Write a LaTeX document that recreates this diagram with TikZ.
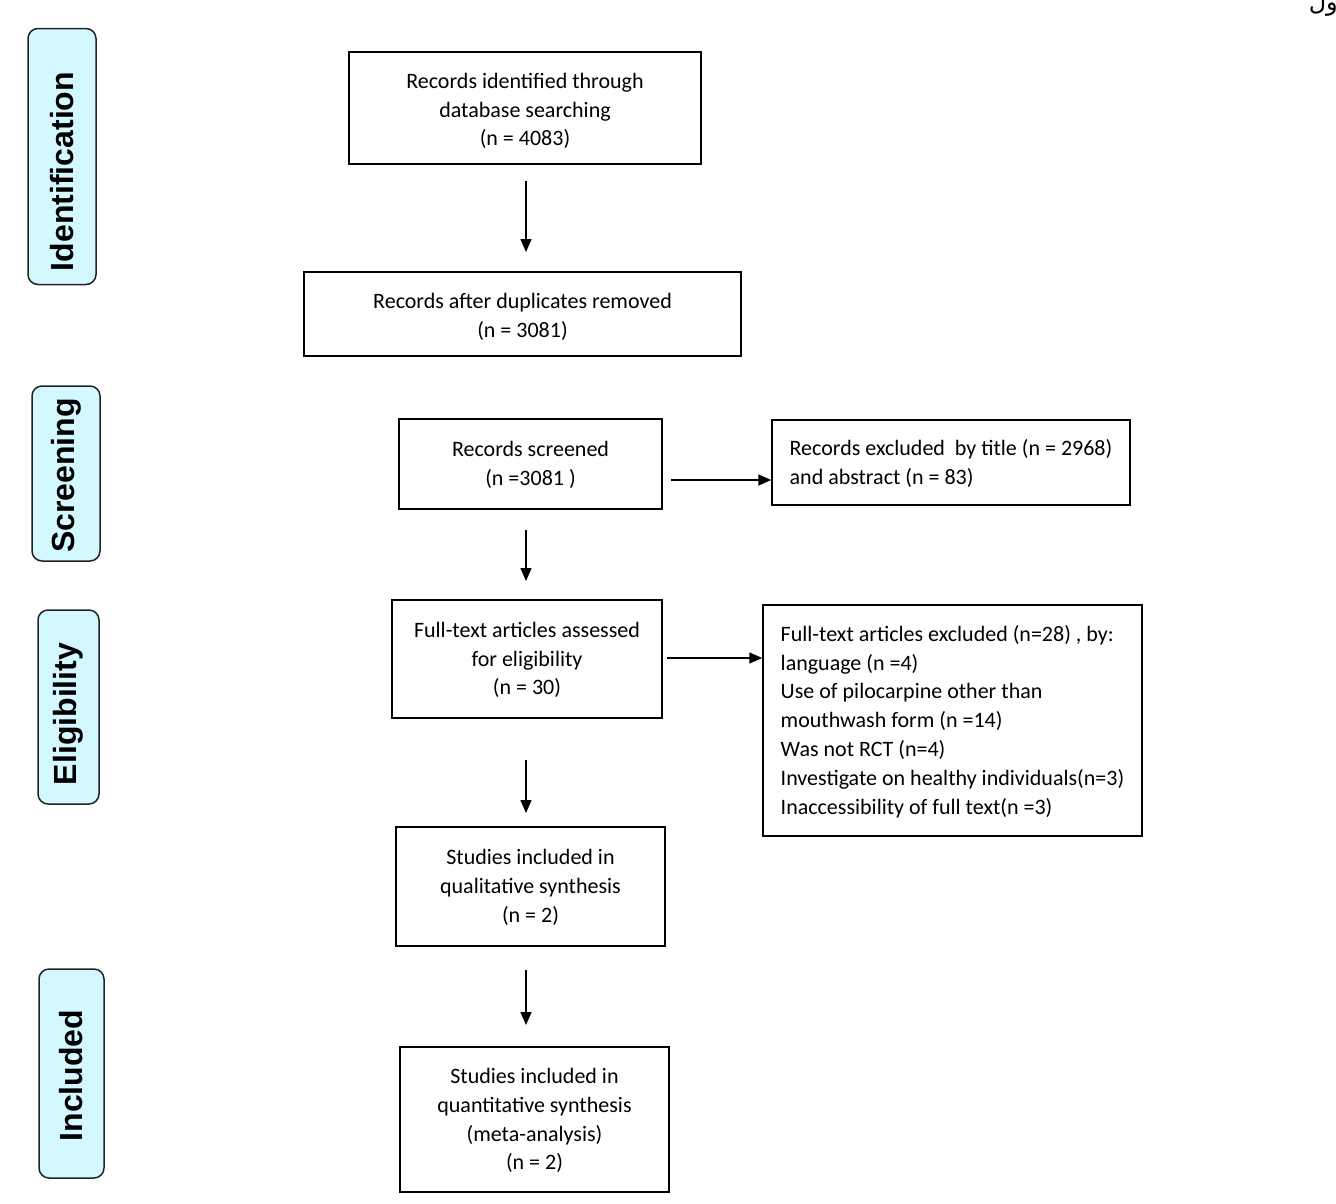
\documentclass[tikz,border=0pt]{standalone}
\usepackage{fontspec}
\setmainfont{Carlito}
\newfontfamily\labfont{Liberation Sans}
\newfontfamily\arabicfont[Script=Arabic]{DejaVu Sans}
\TeXXeTstate=1
\usetikzlibrary{arrows.meta}
\definecolor{phasefill}{HTML}{D4F8FF}
\definecolor{phaseline}{HTML}{222222}
\begin{document}
\begin{tikzpicture}[x=1pt,y=-1pt,
  box/.style={draw, line width=1.5pt, inner sep=0pt},
  btext/.style={inner sep=0pt, align=center, font=\fontsize{22}{28.8}\selectfont},
  ltext/.style={btext, align=left},
  phasebox/.style={draw=phaseline, fill=phasefill, line width=1.5pt, rounded corners=10pt,
    inner sep=0pt},
  phasetext/.style={rotate=90, inner sep=0pt, font=\labfont\bfseries\fontsize{32}{34}\selectfont},
  arr/.style={line width=1.5pt, -{Triangle[width=11pt,length=13pt]}}]
\useasboundingbox (0,0) rectangle (1336,1203);

% phase labels
\node[phasebox, minimum width=68, minimum height=256] (pid) at (62,156.5) {};
\node[phasetext] (pidt) at ([yshift=-15pt]pid.center) {Identification};
\node[phasebox, minimum width=68, minimum height=175] (psc) at (66,473.5) {};
\node[phasetext] (psct) at ([yshift=-2pt]psc.center) {Screening};
\node[phasebox, minimum width=61, minimum height=194] (pel) at (68.5,707) {};
\node[phasetext] (pelt) at ([yshift=-7pt]pel.center) {Eligibility};
\node[phasebox, minimum width=65, minimum height=209] (pin) at (71.5,1073.5) {};
\node[phasetext] (pint) at ([yshift=-2pt]pin.center) {Included};

% boxes
\node[box, minimum width=352, minimum height=112] (b1) at (525,108) {};
\node[btext] (b1t) at ([yshift=-3pt]b1.center)
  {Records identified through\\database searching\\(n = 4083)};
\node[box, minimum width=437, minimum height=84] (b2) at (522.5,314) {};
\node[btext] (b2t) at ([yshift=-3pt]b2.center)
  {Records after duplicates removed\\(n = 3081)};
\node[box, minimum width=263, minimum height=90] (b3) at (530.5,464) {};
\node[btext] (b3t) at ([yshift=-1pt]b3.center)
  {Records screened\\(n =3081 )};
\node[box, minimum width=358, minimum height=85] (b4) at (951,462.5) {};
\node[ltext] (b4t) at ([yshift=-1pt]b4.center)
  {Records excluded~ by title (n = 2968)\\and abstract (n = 83)};
\node[box, minimum width=270, minimum height=118] (b5) at (527,659) {};
\node[btext] (b5t) at ([yshift=-1pt]b5.center)
  {Full-text articles assessed\\for eligibility\\(n = 30)};
\node[box, minimum width=379, minimum height=231] (b6) at (952.5,720.5) {};
\node[ltext] (b6t) at ([yshift=-1pt]b6.center)
  {Full-text articles excluded (n=28) , by:\\language (n =4)\\Use of pilocarpine other than\\mouthwash form (n =14)\\Was not RCT (n=4)\\Investigate on healthy individuals(n=3)\\Inaccessibility of full text(n =3)};
\node[box, minimum width=269, minimum height=119] (b7) at (530.5,886.5) {};
\node[btext] (b7t) at ([yshift=-1pt]b7.center)
  {Studies included in\\qualitative synthesis\\(n = 2)};
\node[box, minimum width=269, minimum height=145] (b8) at (534.5,1119.5) {};
\node[btext] (b8t) at ([yshift=-1pt]b8.center)
  {Studies included in\\quantitative synthesis\\(meta-analysis)\\(n = 2)};

% arrow end points
\coordinate (s1) at (526,181);  \coordinate (e1) at (526,252);
\coordinate (s2) at (526,530);  \coordinate (e2) at (526,581);
\coordinate (s3) at (671,480);  \coordinate (e3) at (b4.west |- s3);
\coordinate (s4) at (667,658);  \coordinate (e4) at (b6.west |- s4);
\coordinate (s5) at (526,760);  \coordinate (e5) at (526,813);
\coordinate (s6) at (526,970);  \coordinate (e6) at (526,1025);

\draw[arr] (s1) -- (e1);
\draw[arr] (s2) -- (e2);
\draw[arr] (s3) -- (e3);
\draw[arr] (s4) -- (e4);
\draw[arr] (s5) -- (e5);
\draw[arr] (s6) -- (e6);

% cut-off text at top right
\node[anchor=base east, inner sep=0pt, font=\arabicfont\fontsize{24}{28}\selectfont] (ar) at (1338,10) {\beginR ول\endR};
\end{tikzpicture}
\end{document}
